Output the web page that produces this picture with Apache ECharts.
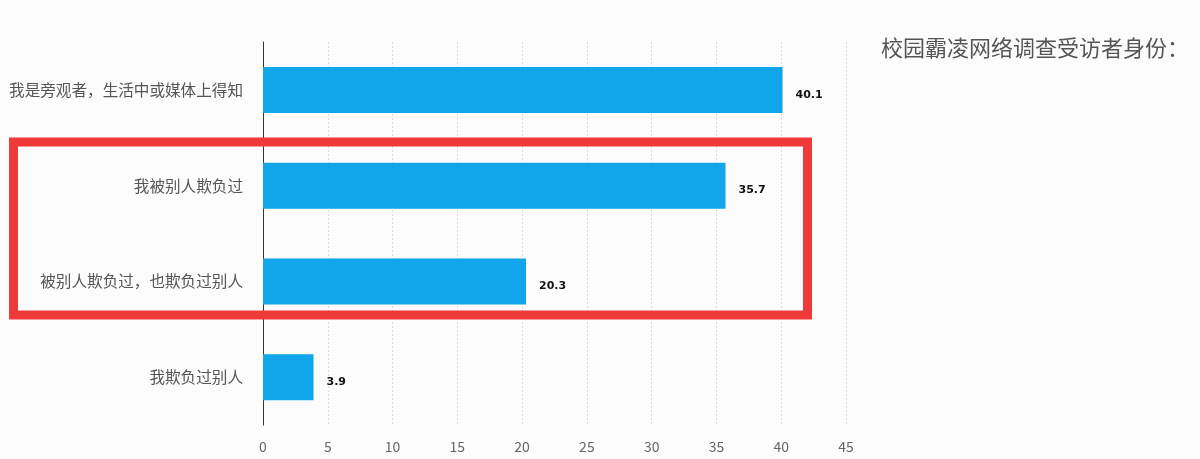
<!DOCTYPE html>
<html><head><meta charset="utf-8">
<script src="https://cdn.jsdelivr.net/npm/echarts@6/dist/echarts.min.js"></script>
<style>html,body{margin:0;padding:0;background:#fcfcfc}#c{width:1200px;height:459px}</style>
</head><body><div id="c"></div>
<script>
const categories = ['我是旁观者，生活中或媒体上得知', '我被别人欺负过', '被别人欺负过，也欺负过别人', '我欺负过别人'];
const values = [40.1, 35.7, 20.3, 3.9];
const titleText = '校园霸凌网络调查受访者身份：';
const font = '"Noto Sans CJK SC", "Microsoft YaHei", sans-serif';

const chart = echarts.init(document.getElementById('c'));
chart.setOption({
  backgroundColor: '#fcfcfc',
  animation: false,
  title: {
    text: titleText, right: 6, top: 32,
    textStyle: { fontFamily: font, fontSize: 22, fontWeight: 'normal', color: '#555' }
  },
  grid: { left: 263, right: 354, top: 42, bottom: 34 },
  xAxis: {
    type: 'value', min: 0, max: 45, interval: 5,
    axisLine: { show: false }, axisTick: { show: false },
    splitLine: { show: true, lineStyle: { color: '#dcdcdc', type: [2, 2] } },
    axisLabel: { fontFamily: font, fontSize: 14, color: '#666', margin: 15 }
  },
  yAxis: {
    type: 'category', data: categories, inverse: true,
    axisLine: { show: true, lineStyle: { color: '#333', width: 1 } },
    axisTick: { show: false },
    axisLabel: { fontFamily: font, fontSize: 15.6, color: '#555', margin: 20 }
  },
  series: [{
    type: 'bar', data: values, barWidth: 46,
    itemStyle: { color: '#10a6e9' },
    label: { show: true, position: 'right', distance: 13, offset: [0, 5], fontFamily: 'Verdana, "DejaVu Sans", sans-serif',
      fontSize: 11, fontWeight: 'bold', color: '#111' }
  }],
  graphic: [{
    type: 'rect', z: 100,
    shape: { x: 13.5, y: 142, width: 794, height: 173 },
    style: { fill: 'none', stroke: '#f03a3a', lineWidth: 9 }
  }]
});
</script></body></html>
